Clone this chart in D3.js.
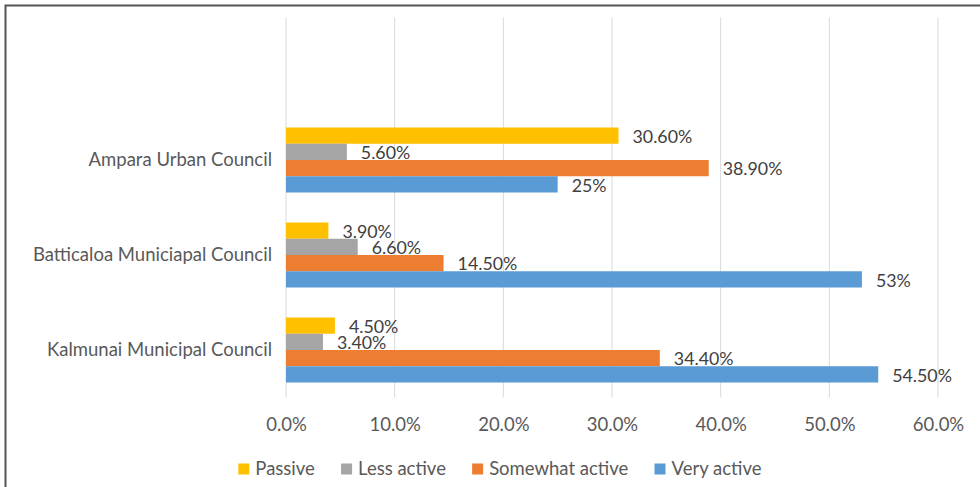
<!DOCTYPE html>
<html><head><meta charset="utf-8">
<script src="https://cdn.jsdelivr.net/npm/d3@7"></script>
<style>html,body{margin:0;padding:0;background:#fff;}svg{display:block;}</style>
</head><body><svg id="c" width="980" height="487"></svg>
<script>
const categories = ["", "Ampara Urban Council", "Batticaloa Municiapal Council", "Kalmunai Municipal Council"];
const seriesNames = ["Passive", "Less active", "Somewhat active", "Very active"];
const seriesColors = ["#FFC000", "#A5A5A5", "#ED7D31", "#5B9BD5"];
const passive = [null, 30.6, 3.9, 4.5];
const lessActive = [null, 5.6, 6.6, 3.4];
const somewhatActive = [null, 38.9, 14.5, 34.4];
const veryActive = [null, 25, 53, 54.5];
const valueLabels = [
  [null, "30.60%", "3.90%", "4.50%"],
  [null, "5.60%", "6.60%", "3.40%"],
  [null, "38.90%", "14.50%", "34.40%"],
  [null, "25%", "53%", "54.50%"]
];
const xTicks = [0, 10, 20, 30, 40, 50, 60];

const series = [passive, lessActive, somewhatActive, veryActive];
const FONT = "Lato, 'Open Sans', sans-serif";
const svg = d3.select("#c");

// outer border
svg.append("rect").attr("x", 5.5).attr("y", 5.5).attr("width", 1000).attr("height", 1000)
  .attr("fill", "none").attr("stroke", "#555").attr("stroke-width", 2);

const x = d3.scaleLinear().domain([0, 60]).range([286, 938]);
const y0 = d3.scaleBand().domain(categories).range([17.5, 397.5]).paddingInner(0.3158).paddingOuter(0.1579);
const y1 = d3.scaleBand().domain(seriesNames).range([0, y0.bandwidth()]);

// gridlines
svg.append("g").selectAll("line").data(xTicks).join("line")
  .attr("x1", d => x(d)).attr("x2", d => x(d)).attr("y1", 17.5).attr("y2", 397.5)
  .attr("stroke", "#d9d9d9").attr("stroke-width", 1);

// x tick labels via axis
const xAxis = d3.axisBottom(x).tickValues(xTicks).tickSize(0).tickPadding(0).tickFormat(d => d.toFixed(1) + "%");
const gx = svg.append("g").attr("transform", "translate(0,418)").call(xAxis);
gx.select(".domain").remove();
gx.selectAll("text").attr("font-family", FONT).attr("font-size", 18.5).attr("fill", "#595959");

// category labels
const yAxis = d3.axisLeft(y0).tickSize(0).tickPadding(0);
const gy = svg.append("g").attr("transform", "translate(272,0)").call(yAxis);
gy.select(".domain").remove();
gy.selectAll("text").attr("font-family", FONT).attr("font-size", 18.5).attr("fill", "#595959");

// bars
series.forEach((vals, si) => {
  const g = svg.append("g");
  const data = categories.map((c, i) => ({c, v: vals[i], lab: valueLabels[si][i]})).filter(d => d.v != null);
  g.selectAll("rect").data(data).join("rect")
    .attr("x", x(0)).attr("y", d => y0(d.c) + y1(seriesNames[si]))
    .attr("width", d => x(d.v) - x(0)).attr("height", y1.bandwidth())
    .attr("fill", seriesColors[si]);
  g.selectAll("text").data(data).join("text")
    .attr("x", d => x(d.v) + 14).attr("y", d => y0(d.c) + y1(seriesNames[si]) + y1.bandwidth() / 2 + 1)
    .attr("dy", "0.35em")
    .attr("font-family", FONT).attr("font-size", 17.8).attr("fill", "#404040")
    .text(d => d.lab);
});

// legend
const lg = svg.append("g").attr("transform", "translate(0,469)");
let items = lg.selectAll("g").data(seriesNames).join("g");
items.append("rect").attr("x", 0).attr("y", -5.5).attr("width", 11).attr("height", 11).attr("fill", (d, i) => seriesColors[i]);
items.append("text").attr("x", 17).attr("dy", "0.35em").attr("font-family", FONT).attr("font-size", 18.5).attr("fill", "#595959").text(d => d);
let pos = 0; const offs = [];
items.each(function() { offs.push(pos); pos += this.getBBox().width + 26; });
const total = pos - 26;
const start = 500 - total / 2;
items.attr("transform", (d, i) => `translate(${start + offs[i]},0)`);
</script></body></html>
